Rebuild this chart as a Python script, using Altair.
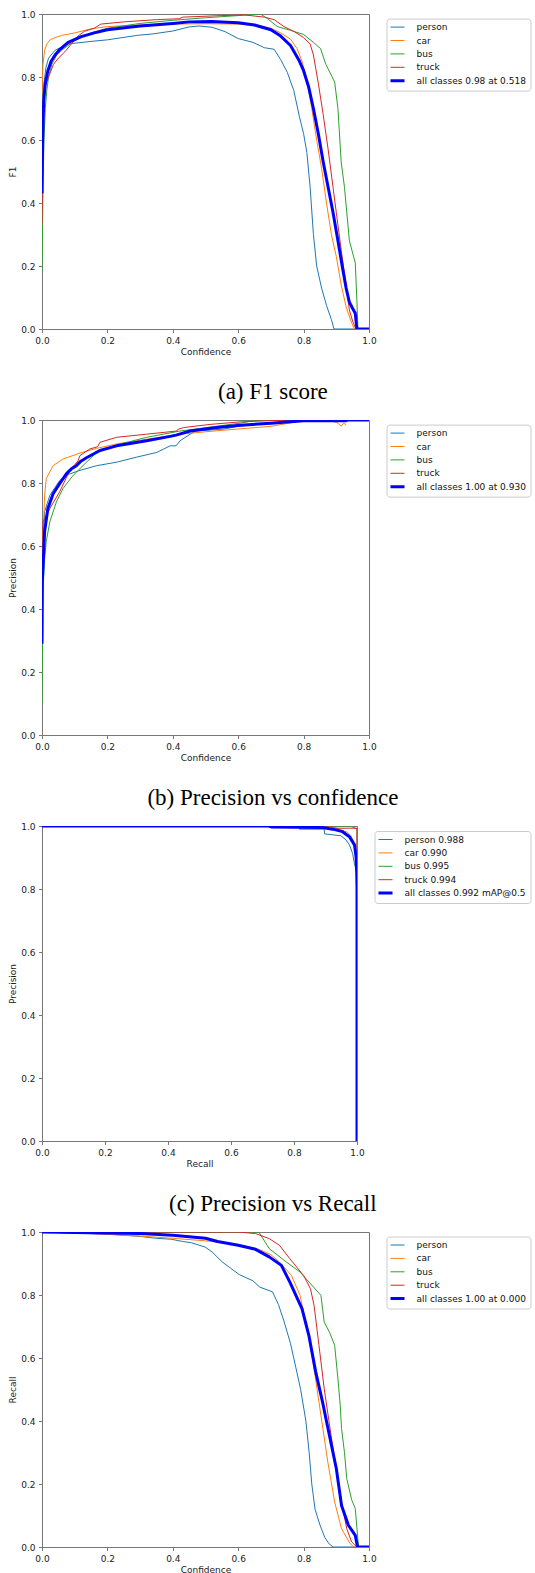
import altair as alt
import pandas as pd

# ---------------- shared styling data ----------------
CLASS_COLORS = ["#1f77b4", "#ff7f0e", "#2ca02c", "#d62728", "#0000ff"]
LINE_WIDTHS = [1, 1, 1, 1, 3]
TICKS = [0.0, 0.2, 0.4, 0.6, 0.8, 1.0]

# ---------------- (a) F1 vs confidence ----------------
F1_LABELS = ["person", "car", "bus", "truck", "all classes 0.98 at 0.518"]
F1_PERSON_X = [0.0, 0.002, 0.006, 0.012, 0.02, 0.04, 0.08, 0.15, 0.2, 0.29, 0.34, 0.4, 0.45, 0.48, 0.52, 0.56, 0.6, 0.645, 0.68, 0.71, 0.73, 0.75, 0.77, 0.787, 0.80, 0.81, 0.82, 0.83, 0.84, 0.855, 0.87, 0.885, 0.893, 1.0]
F1_PERSON_Y = [0.42, 0.65, 0.78, 0.83, 0.86, 0.885, 0.905, 0.913, 0.918, 0.932, 0.937, 0.946, 0.959, 0.962, 0.958, 0.944, 0.922, 0.91, 0.893, 0.888, 0.855, 0.815, 0.757, 0.675, 0.62, 0.56, 0.45, 0.3, 0.2, 0.13, 0.075, 0.03, 0.0, 0.0]
F1_CAR_X = [0.0, 0.003, 0.008, 0.015, 0.025, 0.04, 0.06, 0.1, 0.15, 0.2, 0.3, 0.4, 0.5, 0.6, 0.67, 0.7, 0.73, 0.76, 0.78, 0.795, 0.81, 0.825, 0.84, 0.855, 0.87, 0.885, 0.9, 0.915, 0.93, 0.945, 0.955, 1.0]
F1_CAR_Y = [0.75, 0.84, 0.885, 0.905, 0.918, 0.925, 0.932, 0.94, 0.953, 0.96, 0.965, 0.968, 0.969, 0.968, 0.962, 0.955, 0.94, 0.92, 0.89, 0.85, 0.79, 0.7, 0.6, 0.51, 0.4, 0.3, 0.23, 0.14, 0.07, 0.025, 0.0, 0.0]
F1_BUS_X = [0.0, 0.003, 0.006, 0.01, 0.015, 0.02, 0.03, 0.045, 0.06, 0.08, 0.1, 0.15, 0.2, 0.3, 0.4, 0.5, 0.6, 0.668, 0.69, 0.72, 0.76, 0.8, 0.83, 0.852, 0.868, 0.895, 0.905, 0.915, 0.925, 0.94, 0.958, 0.963, 0.966, 1.0]
F1_BUS_Y = [0.18, 0.45, 0.6, 0.7, 0.76, 0.8, 0.84, 0.87, 0.885, 0.9, 0.915, 0.94, 0.955, 0.97, 0.98, 0.988, 0.995, 1.0, 0.985, 0.96, 0.948, 0.935, 0.91, 0.89, 0.84, 0.784, 0.7, 0.53, 0.45, 0.28, 0.21, 0.09, 0.0, 0.0]
F1_TRUCK_X = [0.0, 0.003, 0.006, 0.01, 0.02, 0.035, 0.05, 0.07, 0.09, 0.11, 0.13, 0.16, 0.18, 0.25, 0.35, 0.42, 0.43, 0.55, 0.62, 0.68, 0.71, 0.74, 0.77, 0.8, 0.82, 0.83, 0.845, 0.86, 0.875, 0.89, 0.9, 0.915, 0.93, 0.94, 0.95, 0.96, 1.0]
F1_TRUCK_Y = [0.33, 0.62, 0.72, 0.77, 0.8, 0.84, 0.86, 0.88, 0.905, 0.93, 0.945, 0.955, 0.968, 0.975, 0.982, 0.985, 0.99, 0.995, 0.997, 0.99, 0.982, 0.96, 0.945, 0.925, 0.905, 0.87, 0.78, 0.68, 0.57, 0.45, 0.37, 0.25, 0.14, 0.06, 0.025, 0.0, 0.0]
F1_ALL_X = [0.0, 0.002, 0.005, 0.01, 0.018, 0.028, 0.04, 0.055, 0.08, 0.12, 0.16, 0.2, 0.3, 0.4, 0.45, 0.518, 0.6, 0.65, 0.7, 0.73, 0.76, 0.785, 0.8, 0.815, 0.83, 0.845, 0.86, 0.875, 0.89, 0.905, 0.918, 0.93, 0.94, 0.95, 0.958, 0.963, 1.0]
F1_ALL_Y = [0.43, 0.6, 0.72, 0.78, 0.82, 0.85, 0.87, 0.888, 0.91, 0.928, 0.94, 0.95, 0.962, 0.97, 0.975, 0.976, 0.972, 0.965, 0.95, 0.93, 0.9, 0.855, 0.82, 0.77, 0.7, 0.62, 0.53, 0.45, 0.37, 0.28, 0.2, 0.13, 0.085, 0.065, 0.05, 0.0, 0.0]

# ---------------- (b) Precision vs confidence ----------------
P_LABELS = ["person", "car", "bus", "truck", "all classes 1.00 at 0.930"]
P_PERSON_X = [0.0, 0.003, 0.008, 0.024, 0.054, 0.085, 0.116, 0.167, 0.228, 0.289, 0.351, 0.392, 0.41, 0.422, 0.453, 0.47, 0.555, 0.6, 0.7, 0.8, 0.9, 1.0]
P_PERSON_Y = [0.3, 0.6, 0.709, 0.761, 0.808, 0.829, 0.84, 0.855, 0.866, 0.882, 0.897, 0.918, 0.918, 0.934, 0.955, 0.965, 0.971, 0.98, 0.99, 1.0, 1.0, 1.0]
P_CAR_X = [0.0, 0.003, 0.008, 0.013, 0.034, 0.064, 0.116, 0.167, 0.228, 0.32, 0.422, 0.525, 0.606, 0.7, 0.8, 0.88, 0.905, 0.915, 0.922, 0.93]
P_CAR_Y = [0.5, 0.615, 0.761, 0.814, 0.855, 0.876, 0.895, 0.91, 0.924, 0.939, 0.955, 0.965, 0.972, 0.98, 0.998, 1.0, 0.99, 0.98, 0.99, 0.985]
P_BUS_X = [0.0, 0.003, 0.008, 0.013, 0.024, 0.044, 0.064, 0.095, 0.136, 0.167, 0.218, 0.32, 0.422, 0.525, 0.606, 0.66, 1.0]
P_BUS_Y = [0.1, 0.458, 0.56, 0.615, 0.677, 0.74, 0.782, 0.824, 0.866, 0.897, 0.918, 0.945, 0.965, 0.979, 0.99, 1.0, 1.0]
P_TRUCK_X = [0.0, 0.003, 0.024, 0.054, 0.085, 0.11, 0.116, 0.146, 0.17, 0.177, 0.228, 0.32, 0.412, 0.415, 0.433, 0.514, 0.606, 0.7, 0.8, 1.0]
P_TRUCK_Y = [0.29, 0.677, 0.719, 0.772, 0.84, 0.87, 0.887, 0.908, 0.915, 0.929, 0.945, 0.955, 0.965, 0.97, 0.976, 0.986, 0.994, 0.998, 1.0, 1.0]
P_ALL_X = [0.0, 0.001, 0.008, 0.018, 0.034, 0.054, 0.075, 0.09, 0.105, 0.12, 0.136, 0.177, 0.228, 0.32, 0.392, 0.41, 0.453, 0.535, 0.606, 0.7, 0.8, 0.93, 0.935, 1.0]
P_ALL_Y = [0.29, 0.489, 0.646, 0.719, 0.766, 0.798, 0.83, 0.845, 0.855, 0.87, 0.88, 0.903, 0.918, 0.934, 0.948, 0.952, 0.965, 0.976, 0.983, 0.99, 0.998, 0.998, 1.0, 1.0]

# ---------------- (c) Precision vs Recall ----------------
PR_LABELS = ["person 0.988", "car 0.990", "bus 0.995", "truck 0.994", "all classes 0.992 mAP@0.5"]
PR_PERSON_X = [0.0, 0.816, 0.817, 0.896, 0.897, 0.949, 0.965, 0.976, 0.986, 0.992, 0.997, 1.0, 1.0]
PR_PERSON_Y = [1.0, 1.0, 0.99, 0.99, 0.975, 0.969, 0.956, 0.94, 0.913, 0.88, 0.86, 0.84, 0.0]
PR_CAR_X = [0.0, 0.9, 0.93, 0.95, 0.97, 0.98, 0.99, 0.995, 1.0, 1.0]
PR_CAR_Y = [1.0, 1.0, 0.995, 0.988, 0.98, 0.97, 0.95, 0.92, 0.87, 0.0]
PR_BUS_X = [0.0, 0.98, 1.0, 1.0]
PR_BUS_Y = [1.0, 1.0, 0.99, 0.0]
PR_TRUCK_X = [0.0, 0.92, 0.921, 1.0, 1.0]
PR_TRUCK_Y = [1.0, 1.0, 0.993, 0.993, 0.0]
PR_ALL_X = [0.0, 0.72, 0.73, 0.89, 0.923, 0.954, 0.976, 0.992, 0.997, 0.999, 1.0, 1.0]
PR_ALL_Y = [1.0, 1.0, 0.997, 0.995, 0.99, 0.982, 0.966, 0.94, 0.903, 0.86, 0.8, 0.0]

# ---------------- (d) Recall vs confidence ----------------
R_LABELS = ["person", "car", "bus", "truck", "all classes 1.00 at 0.000"]
R_PERSON_X = [0.0, 0.1, 0.2, 0.3, 0.35, 0.395, 0.43, 0.457, 0.499, 0.52, 0.551, 0.603, 0.645, 0.666, 0.705, 0.723, 0.739, 0.76, 0.776, 0.791, 0.807, 0.817, 0.825, 0.835, 0.85, 0.865, 0.878, 0.89, 1.0]
R_PERSON_Y = [1.0, 0.997, 0.993, 0.986, 0.98, 0.977, 0.97, 0.966, 0.952, 0.937, 0.905, 0.865, 0.845, 0.825, 0.81, 0.77, 0.72, 0.646, 0.571, 0.5, 0.4, 0.3, 0.2, 0.12, 0.07, 0.03, 0.01, 0.0, 0.0]
R_CAR_X = [0.0, 0.2, 0.3, 0.4, 0.5, 0.6, 0.663, 0.7, 0.726, 0.763, 0.789, 0.811, 0.832, 0.853, 0.874, 0.895, 0.916, 0.942, 0.953, 1.0]
R_CAR_Y = [1.0, 0.993, 0.987, 0.98, 0.972, 0.96, 0.945, 0.928, 0.905, 0.862, 0.799, 0.693, 0.566, 0.418, 0.27, 0.143, 0.058, 0.011, 0.0, 0.0]
R_BUS_X = [0.0, 0.663, 0.695, 0.747, 0.789, 0.821, 0.853, 0.863, 0.88, 0.895, 0.905, 0.912, 0.916, 0.925, 0.932, 0.947, 0.958, 0.968, 1.0]
R_BUS_Y = [1.0, 1.0, 0.947, 0.905, 0.873, 0.836, 0.799, 0.714, 0.68, 0.64, 0.534, 0.45, 0.376, 0.3, 0.217, 0.15, 0.122, 0.0, 0.0]
R_TRUCK_X = [0.0, 0.6, 0.653, 0.695, 0.726, 0.758, 0.8, 0.821, 0.832, 0.847, 0.863, 0.884, 0.9, 0.916, 0.932, 0.947, 0.963, 1.0]
R_TRUCK_Y = [1.0, 1.0, 0.995, 0.979, 0.958, 0.915, 0.862, 0.82, 0.767, 0.64, 0.503, 0.354, 0.249, 0.143, 0.058, 0.016, 0.0, 0.0]
R_ALL_X = [0.0, 0.2, 0.3, 0.4, 0.5, 0.537, 0.6, 0.653, 0.695, 0.732, 0.758, 0.795, 0.816, 0.837, 0.858, 0.879, 0.9, 0.916, 0.937, 0.958, 0.965, 1.0]
R_ALL_Y = [1.0, 0.997, 0.995, 0.99, 0.98, 0.97, 0.958, 0.945, 0.921, 0.894, 0.841, 0.757, 0.672, 0.556, 0.46, 0.354, 0.249, 0.132, 0.069, 0.037, 0.0, 0.0]


def build(labels, xs_list, ys_list):
    rows = []
    for k, (lab, xs, ys) in enumerate(zip(labels, xs_list, ys_list)):
        for i, (xv, yv) in enumerate(zip(xs, ys)):
            rows.append({"s": lab, "x": xv, "y": yv, "i": i, "w": LINE_WIDTHS[k]})
    return pd.DataFrame(rows)


def panel(df, labels, xtitle, ytitle, w, h, legx, legy, caption=None, cap_dx=0):
    sw_expr = "datum.value == '" + labels[4] + "' ? 3 : 1"
    leg = alt.Legend(
        title=None, orient="none", legendX=legx, legendY=legy,
        symbolType="stroke", symbolSize=361, clipHeight=9, rowPadding=3.4,
        symbolStrokeWidth={"expr": sw_expr},
        labelFontSize=9, labelFont="DejaVu Sans", labelColor="#111111",
        padding=4, strokeColor="#cccccc", fillColor="white", cornerRadius=3,
        labelOffset=17,
    )
    color = alt.Color("s:N", scale=alt.Scale(domain=labels, range=CLASS_COLORS), legend=leg)
    sw = alt.StrokeWidth("w:Q", scale=None)
    xe = alt.X("x:Q", scale=alt.Scale(domain=[0, 1], nice=False, zero=False),
               axis=alt.Axis(title=xtitle, values=TICKS, format=".1f"))
    ye = alt.Y("y:Q", scale=alt.Scale(domain=[0, 1], nice=False, zero=False),
               axis=alt.Axis(title=ytitle, values=TICKS, format=".1f"))
    base = alt.Chart(df)
    cls = base.transform_filter(
        alt.FieldOneOfPredicate(field="s", oneOf=labels[:4])
    ).mark_line(clip=True, strokeJoin="round").encode(
        x=xe, y=ye, color=color, strokeWidth=sw, order="i:Q")
    allc = base.transform_filter(
        alt.FieldEqualPredicate(field="s", equal=labels[4])
    ).mark_line(clip=True, strokeJoin="round").encode(
        x=xe, y=ye, color=color, strokeWidth=sw, order="i:Q")
    props = dict(width=w, height=h)
    if caption:
        props["title"] = alt.TitleParams(
            caption, orient="bottom", anchor="middle", frame="group",
            font="Liberation Serif", fontSize=23, fontWeight="normal",
            color="black", baseline="alphabetic", offset=43, dx=cap_dx)
    return alt.layer(cls, allc).properties(**props)


df1 = build(F1_LABELS, [F1_PERSON_X, F1_CAR_X, F1_BUS_X, F1_TRUCK_X, F1_ALL_X],
            [F1_PERSON_Y, F1_CAR_Y, F1_BUS_Y, F1_TRUCK_Y, F1_ALL_Y])
df2 = build(P_LABELS, [P_PERSON_X, P_CAR_X, P_BUS_X, P_TRUCK_X, P_ALL_X],
            [P_PERSON_Y, P_CAR_Y, P_BUS_Y, P_TRUCK_Y, P_ALL_Y])
df3 = build(PR_LABELS, [PR_PERSON_X, PR_CAR_X, PR_BUS_X, PR_TRUCK_X, PR_ALL_X],
            [PR_PERSON_Y, PR_CAR_Y, PR_BUS_Y, PR_TRUCK_Y, PR_ALL_Y])
df4 = build(R_LABELS, [R_PERSON_X, R_CAR_X, R_BUS_X, R_TRUCK_X, R_ALL_X],
            [R_PERSON_Y, R_CAR_Y, R_BUS_Y, R_TRUCK_Y, R_ALL_Y])

p1 = panel(df1, F1_LABELS, "Confidence", "F1", 327, 315, 344.5, 4.6, "(a) F1 score", 67.4)
p2 = panel(df2, P_LABELS, "Confidence", "Precision", 327, 315, 344.5, 4.6, "(b) Precision vs confidence", 67.4)
p3 = panel(df3, PR_LABELS, "Recall", "Precision", 315, 315, 332.5, 5.0, "(c) Precision vs Recall", 73.3)
p4 = panel(df4, R_LABELS, "Confidence", "Recall", 327, 315, 344.5, 4.5)

chart = alt.vconcat(p1, p2, p3, p4, spacing=91, bounds="flush").resolve_scale(
    color="independent", x="independent", y="independent"
).resolve_legend(
    color="independent"
).configure_view(
    stroke="#777777", strokeWidth=1
).configure_axis(
    labelFont="DejaVu Sans", labelFontSize=9, titleFont="DejaVu Sans", titleFontSize=9,
    titleFontWeight="normal", labelColor="#222222", titleColor="#222222",
    domainColor="#777777", tickColor="#777777", tickSize=3.5, labelPadding=3.5,
    grid=False, domainWidth=1, tickWidth=1, labelFlush=False,
).configure_axisX(titlePadding=2).configure_axisY(titlePadding=3).properties(
    padding={"left": 8, "top": 9, "right": 0, "bottom": 0}, background="white"
)

chart.save("out.html", embed_options={"renderer": "svg", "actions": False})
